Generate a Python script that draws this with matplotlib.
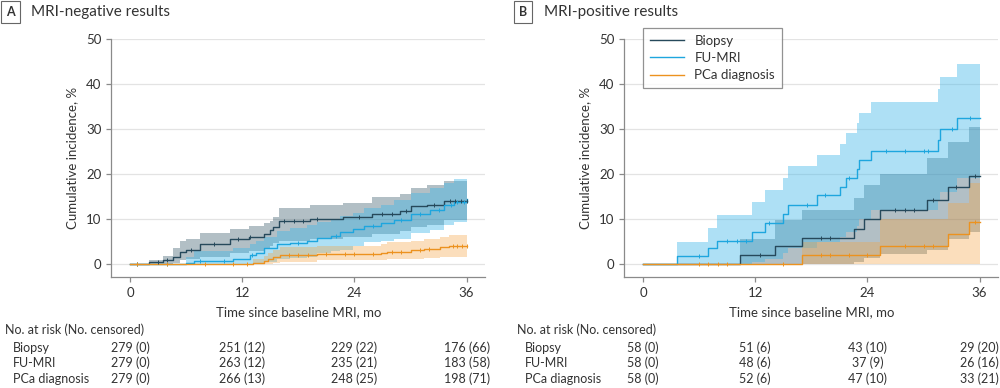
import numpy as np
import matplotlib
matplotlib.use("Agg")
import matplotlib.pyplot as plt
from matplotlib.transforms import blended_transform_factory

plt.rcParams['font.family'] = ['Lato', 'DejaVu Sans']

# ---- panel A: MRI-negative ----
a_bx_t = [0, 2.0, 3.5, 4.6, 5.3, 6.0, 7.5, 10.7, 12.7, 14.3, 15.0, 15.3, 15.9, 19.3, 22.8, 25.9, 28.9, 30.0, 31.8, 33.6, 36]
a_bx_y = [0, 0.4, 0.8, 1.5, 2.7, 3.0, 4.4, 5.5, 6.0, 6.7, 7.5, 8.2, 9.6, 10.0, 10.4, 11.1, 11.8, 12.9, 13.2, 14.1, 14.1]
a_bx_hi = [0, 0.9, 1.8, 3.6, 5.0, 5.5, 6.8, 7.8, 8.4, 9.0, 9.6, 10.5, 12.4, 13.0, 13.5, 14.8, 15.6, 16.9, 17.5, 18.5, 18.8]
a_bx_lo = [0, 0, 0, 0.2, 0.8, 1.0, 1.5, 2.4, 2.8, 3.3, 4.0, 4.6, 5.2, 5.5, 6.0, 6.6, 7.3, 8.3, 8.6, 9.8, 10.0]
a_bx_cens = [0.7, 3.0, 4.0, 6.5, 9, 11.5, 12.8, 16.5, 17.5, 18.5, 20, 24.5, 27, 28, 29.5, 32.5, 34.2, 34.8, 35.4, 36]

a_fu_t = [0, 6.0, 6.8, 11.0, 12.8, 13.5, 14.3, 15.7, 17.1, 18.9, 20.0, 21.5, 22.5, 23.9, 25.0, 26.8, 28.2, 30.0, 32.1, 33.6, 34.6, 36]
a_fu_y = [0, 0.3, 0.7, 1.1, 2.0, 2.5, 3.6, 4.4, 4.7, 5.1, 5.8, 6.3, 7.2, 7.8, 8.5, 9.0, 9.8, 11.0, 12.0, 13.0, 13.7, 14.5]
a_fu_hi = [0, 1.5, 2.8, 3.5, 4.4, 5.0, 5.9, 7.4, 8.0, 8.6, 9.3, 10.0, 10.7, 11.4, 12.4, 13.2, 14.3, 15.7, 16.9, 18.1, 18.8, 19.4]
a_fu_lo = [0, 0, 0, 0, 0.1, 0.3, 0.5, 1.2, 1.4, 1.6, 2.4, 2.8, 3.1, 3.9, 4.8, 5.0, 5.6, 6.8, 7.6, 8.6, 9.3, 10.0]
a_fu_cens = [0.7, 4.0, 7.5, 10, 13, 18, 22, 26, 29, 31, 33, 34.3, 35, 35.7]

a_pc_t = [0, 13.2, 14.3, 14.8, 15.3, 16.0, 20.0, 26.8, 27.5, 30.0, 31.4, 33.2, 34.1, 36]
a_pc_y = [0, 0.3, 0.6, 1.0, 1.5, 1.9, 2.2, 2.4, 2.7, 3.0, 3.3, 3.7, 4.1, 4.1]
a_pc_hi = [0, 1.0, 1.8, 2.4, 3.0, 3.7, 4.1, 4.4, 4.8, 5.2, 5.5, 6.1, 6.5, 6.5]
a_pc_lo = [0, 0, 0, 0.1, 0.3, 0.5, 0.8, 0.9, 1.0, 1.1, 1.3, 1.5, 1.6, 1.6]
a_pc_cens = [0.7, 4, 8, 11, 12.5, 17, 18, 19, 21, 23, 24, 26, 28, 29, 31, 32, 34.5, 35, 35.5, 36]

# ---- panel B: MRI-positive ----
b_bx_t = [0, 10.4, 14.1, 17.0, 22.6, 23.6, 25.4, 30.4, 32.6, 34.9, 36]
b_bx_y = [0, 1.9, 3.9, 5.8, 7.8, 9.9, 12.0, 14.3, 17.0, 19.6, 19.6]
b_bx_hi = [0, 5.5, 9.8, 12.1, 14.7, 17.6, 20.1, 23.6, 27.0, 30.5, 30.5]
b_bx_lo = [0, 0, 0, 0, 0.5, 1.3, 2.2, 3.0, 5.5, 7.1, 7.1]
b_bx_cens = [12.5, 19, 20, 27, 28, 29, 31, 33.5, 35.5]

b_fu_t = [0, 3.6, 7.0, 7.9, 11.7, 13.1, 15.0, 15.5, 18.6, 21.1, 21.7, 22.9, 23.1, 24.4, 31.5, 31.8, 33.6, 36]
b_fu_y = [0, 1.7, 3.5, 5.2, 7.2, 9.1, 11.1, 13.2, 15.3, 17.2, 19.1, 21.1, 23.0, 25.0, 27.5, 30.0, 32.4, 32.4]
b_fu_hi = [0, 4.9, 8.0, 10.8, 13.7, 16.4, 19.1, 21.7, 24.2, 26.7, 29.1, 31.3, 33.6, 36.0, 38.8, 41.6, 44.5, 44.5]
b_fu_lo = [0, 0, 0, 0, 0.5, 1.2, 2.4, 3.5, 4.8, 6.0, 7.0, 8.5, 10.0, 12.0, 14.0, 16.0, 19.0, 19.0]
b_fu_cens = [6, 9, 10, 11, 13.5, 17.5, 19.5, 22, 26, 28, 30, 30.5, 33, 35]

b_pc_t = [0, 17.0, 25.4, 32.6, 34.9, 36]
b_pc_y = [0, 1.9, 4.0, 6.6, 9.3, 9.3]
b_pc_hi = [0, 4.8, 9.9, 13.5, 17.9, 17.9]
b_pc_lo = [0, 0, 0, 0, 0, 0]
b_pc_cens = [6, 7, 8, 9, 15, 19, 20, 22, 24, 28, 30, 31, 35.5]

# risk table
risk_times = [0, 12, 24, 36]
risk_rows = ["Biopsy", "FU-MRI", "PCa diagnosis"]
a_risk = [["279 (0)", "251 (12)", "229 (22)", "176 (66)"],
          ["279 (0)", "263 (12)", "235 (21)", "183 (58)"],
          ["279 (0)", "266 (13)", "248 (25)", "198 (71)"]]
b_risk = [["58 (0)", "51 (6)", "43 (10)", "29 (20)"],
          ["58 (0)", "48 (6)", "37 (9)", "26 (16)"],
          ["58 (0)", "52 (6)", "47 (10)", "33 (21)"]]

line_col = {"Biopsy": "#26495b", "FU-MRI": "#1ea6de", "PCa diagnosis": "#ec921f"}
band_col = {"Biopsy": ("#2b4f60", 0.36), "FU-MRI": ("#3fb6e8", 0.42), "PCa diagnosis": ("#f5a341", 0.35)}
txt = "#333333"
axc = "#8a8a8a"
fs = 9.0

fig = plt.figure(figsize=(10, 3.88), dpi=100)


def draw_panel(ax, series, letter, title, risk, x_label_fig, x_row_fig):
    for g in range(0, 60, 10):
        ax.axhline(g, color="#e3e3e3", lw=0.9, zorder=0)
    for name, t, y, hi, lo, cens in series:
        c, a = band_col[name]
        ax.fill_between(t, lo, hi, step="post", color=c, alpha=a, lw=0, zorder=1)
    for name, t, y, hi, lo, cens in series:
        ax.plot(t, y, drawstyle="steps-post", color=line_col[name], lw=1.0, zorder=3, label=name)
        idx = np.searchsorted(t, cens, side="right") - 1
        ax.plot(cens, np.array(y)[idx], ls="none", marker="|", ms=2.5, mew=0.7,
                color=line_col[name], zorder=4)
    ax.set_xlim(-2, 38)
    ax.set_ylim(-2.9, 50)
    ax.set_xticks(risk_times)
    ax.set_yticks(range(0, 60, 10))
    for s in ["top", "right"]:
        ax.spines[s].set_visible(False)
    for s in ["left", "bottom"]:
        ax.spines[s].set_color(axc)
        ax.spines[s].set_linewidth(0.9)
    ax.spines["left"].set_bounds(-2.9, 50)
    ax.tick_params(colors=axc, labelcolor=txt, labelsize=9.5, length=3.5, width=0.9)
    ax.set_xlabel("Time since baseline MRI, mo", fontsize=9.5, color=txt, labelpad=5)
    ax.set_ylabel("Cumulative incidence, %", fontsize=9.5, color=txt, labelpad=6)

    # panel tag
    fig.text(x_label_fig, 0.969, letter, fontsize=9, fontweight="bold", color=txt,
             ha="left", va="center",
             bbox=dict(boxstyle="square,pad=0.42", fc="white", ec="#666666", lw=0.8))
    fig.text(x_label_fig + 0.025, 0.969, title, fontsize=11, color=txt, ha="left", va="center")

    # number at risk
    tr = blended_transform_factory(ax.transData, fig.transFigure)
    fig.text(x_row_fig - 0.008, 0.149, "No. at risk (No. censored)", fontsize=fs, color=txt,
             ha="left", va="center")
    row_y = [0.104, 0.064, 0.024]
    for r, lab in enumerate(risk_rows):
        fig.text(x_row_fig, row_y[r], lab, fontsize=fs, color=txt, ha="left", va="center")
        for k, tm in enumerate(risk_times):
            ax.text(tm, row_y[r], risk[r][k], transform=tr, fontsize=fs, color=txt,
                    ha="center", va="center", clip_on=False)


ax_a = fig.add_axes([0.1113, 0.286, 0.374, 0.6135])
ax_b = fig.add_axes([0.6243, 0.286, 0.374, 0.6135])

ser_a = [("Biopsy", a_bx_t, a_bx_y, a_bx_hi, a_bx_lo, a_bx_cens),
         ("FU-MRI", a_fu_t, a_fu_y, a_fu_hi, a_fu_lo, a_fu_cens),
         ("PCa diagnosis", a_pc_t, a_pc_y, a_pc_hi, a_pc_lo, a_pc_cens)]
ser_b = [("Biopsy", b_bx_t, b_bx_y, b_bx_hi, b_bx_lo, b_bx_cens),
         ("FU-MRI", b_fu_t, b_fu_y, b_fu_hi, b_fu_lo, b_fu_cens),
         ("PCa diagnosis", b_pc_t, b_pc_y, b_pc_hi, b_pc_lo, b_pc_cens)]

draw_panel(ax_a, ser_a, "A", "MRI-negative results", a_risk, 0.006, 0.013)
draw_panel(ax_b, ser_b, "B", "MRI-positive results", b_risk, 0.519, 0.525)

leg = ax_b.legend(loc="upper left", bbox_to_anchor=(0.05, 1.046), borderaxespad=0,
                  fontsize=9.5, handlelength=2.6, frameon=True, fancybox=False,
                  edgecolor="#777777", labelspacing=0.4, borderpad=0.5)
leg.get_frame().set_linewidth(0.9)
for t in leg.get_texts():
    t.set_color(txt)

fig.savefig("out.png", dpi=100)
